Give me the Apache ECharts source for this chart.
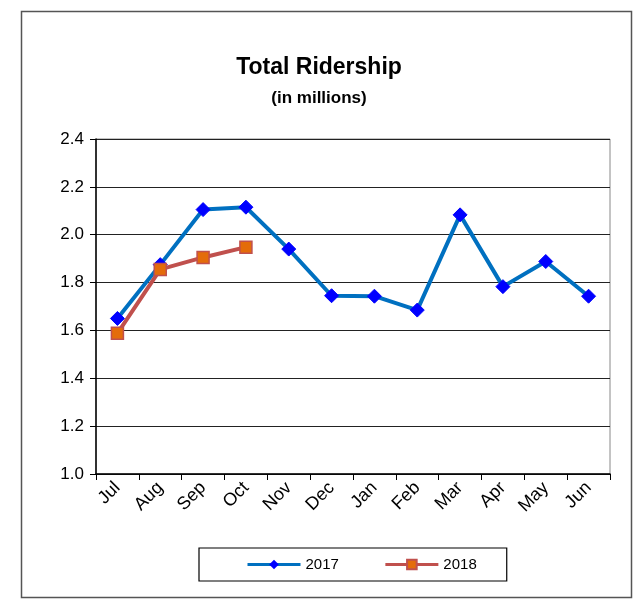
<!DOCTYPE html>
<html><head><meta charset="utf-8">
<script src="https://cdn.jsdelivr.net/npm/echarts@6/dist/echarts.min.js"></script>
<style>html,body{margin:0;padding:0;background:#fff}#c{width:635px;height:600px}</style>
</head><body><div id="c"></div>
<script>
const months = ['Jul','Aug','Sep','Oct','Nov','Dec','Jan','Feb','Mar','Apr','May','Jun'];
const ridership2017 = [1.65, 1.875, 2.105, 2.115, 1.94, 1.745, 1.743, 1.685, 2.083, 1.783, 1.888, 1.743];
const ridership2018 = [1.588, 1.855, 1.905, 1.948];
const yTicks = [1.0, 1.2, 1.4, 1.6, 1.8, 2.0, 2.2, 2.4];

const chart = echarts.init(document.getElementById('c'));
const font = "'Liberation Sans', Arial, sans-serif";
chart.setOption({
  animation: false,
  textStyle: {fontFamily: font},
  graphic: [{type:'rect', shape:{x:21.5, y:11.5, width:610, height:586}, style:{fill:'none', stroke:'#555', lineWidth:1.5}, silent:true}],
  title: [{
    text: 'Total Ridership', left: 314, top: 51, textAlign: 'center',
    textStyle: {fontSize: 23, fontWeight: 'bold', color: '#000', fontFamily: font}
  }, {
    text: '(in millions)', left: 314, top: 85, textAlign: 'center',
    textStyle: {fontSize: 17, fontWeight: 'bold', color: '#000', fontFamily: font}
  }],
  grid: {left: 96, right: 25, top: 139, bottom: 126, show: true, borderColor: '#888', borderWidth: 1},
  xAxis: {
    type: 'category', data: months, boundaryGap: true,
    axisLine: {lineStyle: {color: '#000', width: 1.5}},
    axisTick: {show: true, length: 6, lineStyle: {color: '#000'}},
    axisLabel: {rotate: 45, fontSize: 18, color: '#000', margin: 11, fontFamily: font}
  },
  yAxis: {
    type: 'value', min: yTicks[0], max: yTicks[yTicks.length-1], interval: 0.2,
    axisLine: {show: true, lineStyle: {color: '#000', width: 1.5}},
    axisTick: {show: true, length: 6, lineStyle: {color: '#000'}},
    axisLabel: {fontSize: 17, color: '#000', margin: 12, formatter: v => v.toFixed(1), fontFamily: font},
    splitLine: {lineStyle: {color: '#222', width: 1}}
  },
  legend: {
    left: 199, top: 548,
    padding: [9, 30, 9, 47],
    borderColor: '#000', borderWidth: 1.2,
    itemWidth: 53, itemHeight: 12, itemGap: 45,
    lineStyle: {width: 3},
    textStyle: {fontSize: 15, color: '#000', fontFamily: font},
    data: ['2017', '2018']
  },
  series: [{
    name: '2017', type: 'line', data: ridership2017,
    symbol: 'diamond', symbolSize: 14,
    lineStyle: {color: '#0070C0', width: 4},
    itemStyle: {color: '#0000FF', borderColor: '#0000FF'}
  }, {
    name: '2018', type: 'line', data: ridership2018,
    symbol: 'rect', symbolSize: 12,
    lineStyle: {color: '#C0504D', width: 4},
    itemStyle: {color: '#E46C0A', borderColor: '#C0504D', borderWidth: 1.5}
  }]
});
</script></body></html>
